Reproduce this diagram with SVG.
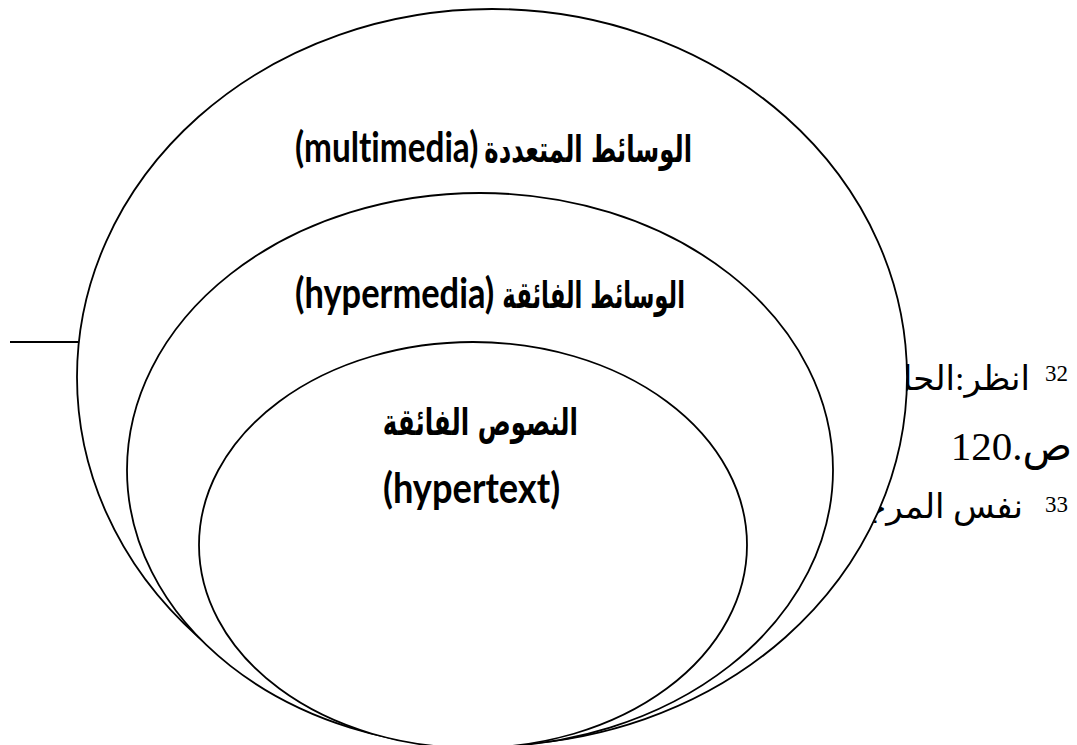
<svg xmlns="http://www.w3.org/2000/svg" width="1077" height="745" viewBox="0 0 1077 745">
<style>
.bg{fill:#fff}
.ell{fill:#fff;stroke:#000;stroke-width:1.8}
.sep{stroke:#000;stroke-width:2}
.lat{font-family:"Lato","Open Sans",sans-serif;font-weight:bold;font-size:42px;fill:#000;font-variant-ligatures:none}
.ar{font-family:"DejaVu Sans",sans-serif;font-weight:bold;font-size:37px;fill:#000}
.fn{font-family:"Liberation Serif","DejaVu Sans",serif;fill:#000}
.sup{font-family:"Liberation Serif",serif;font-size:23px;fill:#000}
</style>
<rect class="bg" x="0" y="0" width="1077" height="745"/>
<g id="footnotes">
<line class="sep" x1="10" y1="342" x2="78" y2="342"/>
<text class="sup" x="1068" y="381" text-anchor="end">32</text>
<text class="fn" x="1030" y="390" text-anchor="end" font-size="34">انظر:الحل</text>
<text class="fn" x="1072" y="460" direction="rtl" text-anchor="start" font-size="41">ص.120</text>
<text class="sup" x="1068" y="512" text-anchor="end">33</text>
<text class="fn" x="1023" y="518" text-anchor="end" font-size="34">نفس المرجع</text>
</g>
<g id="multimedia">
<ellipse class="ell" cx="492" cy="377" rx="415" ry="368"/>
<text class="ar" transform="translate(692,162) scale(0.67,1)" x="0" y="0" text-anchor="end" textLength="310" lengthAdjust="spacingAndGlyphs">الوسائط المتعددة</text>
<text class="lat" transform="translate(295,162) scale(0.78,1)" x="0" y="0" textLength="235" lengthAdjust="spacingAndGlyphs">(multimedia)</text>
</g>
<g id="hypermedia">
<ellipse class="ell" cx="480" cy="470" rx="353" ry="277"/>
<text class="ar" transform="translate(685,308) scale(0.63,1)" x="0" y="0" text-anchor="end" textLength="290" lengthAdjust="spacingAndGlyphs">الوسائط الفائقة</text>
<text class="lat" transform="translate(295,308) scale(0.81,1)" x="0" y="0" textLength="246" lengthAdjust="spacingAndGlyphs">(hypermedia)</text>
</g>
<g id="hypertext">
<ellipse class="ell" cx="473" cy="545" rx="274" ry="203"/>
<text class="ar" transform="translate(578,435) scale(0.68,1)" x="0" y="0" text-anchor="end" textLength="287" lengthAdjust="spacingAndGlyphs">النصوص الفائقة</text>
<text class="lat" transform="translate(383,503) scale(0.86,1)" x="0" y="0" textLength="206" lengthAdjust="spacingAndGlyphs">(hypertext)</text>
</g>
<g id="connectors"></g>
</svg>
